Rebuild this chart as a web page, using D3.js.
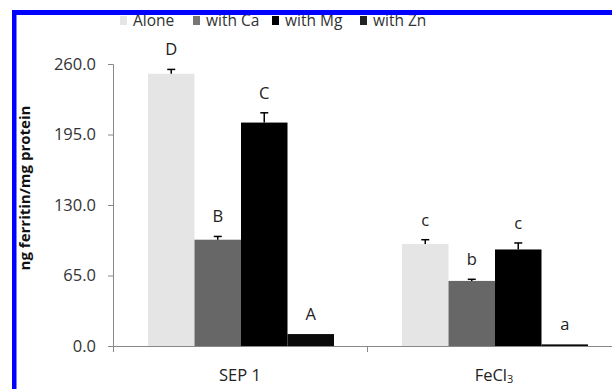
<!DOCTYPE html>
<head>
    <script src="https://d3js.org/d3.v7.min.js"></script>
    <style>
        body { margin: 0; background: #fff; }
        text { font-family: "Open Sans", sans-serif; }
    </style>
</head>
<svg width="612" height="389"></svg>
<script>
    // data
    var groups = ["SEP 1", "FeCl3"];
    var series = ["Alone", "with Ca", "with Mg", "with Zn"];
    var sep1 = [251, 98, 206, 11];
    var fecl3 = [94, 60, 89, 1.5];
    var sep1Err = [4, 3, 9, 0];
    var fecl3Err = [4, 1.5, 6, 0];
    var sep1Letters = ["D", "B", "C", "A"];
    var fecl3Letters = ["c", "b", "c", "a"];
    var yTicks = [0, 65, 130, 195, 260];
    var colors = ["#e5e5e5", "#676767", "#000000", "#0a0a0a"];
    var legendColors = ["#e5e5e5", "#777777", "#000000", "#222222"];

    var svg = d3.select("svg");

    var x0 = d3.scaleBand().domain(groups).range([113, 621]);
    var x1 = d3.scaleBand().domain(series).range([35, 221]);
    var y = d3.scaleLinear().domain([0, 260]).range([346, 64]);

    var rows = groups.map(function(g, i) {
        var vals = i == 0 ? sep1 : fecl3;
        var errs = i == 0 ? sep1Err : fecl3Err;
        var lets = i == 0 ? sep1Letters : fecl3Letters;
        return series.map(function(s, j) {
            return { g: g, s: s, j: j, v: vals[j], e: errs[j], l: lets[j] };
        });
    });

    // y axis
    var yAxis = svg.append("g")
        .attr("transform", "translate(113,0)")
        .call(d3.axisLeft(y).tickValues(yTicks).tickSize(5).tickPadding(12)
            .tickFormat(d3.format(".1f")));
    yAxis.select(".domain").attr("stroke", "#888").attr("d", "M-5,64.5H0.5V346.5");
    yAxis.selectAll(".tick line").attr("stroke", "#888");
    yAxis.selectAll("text").attr("font-size", 16.5).attr("fill", "#333")
        .style("font-family", "'Open Sans', sans-serif");

    // bars
    var g = svg.append("g").selectAll("g")
        .data(rows).enter().append("g")
        .attr("transform", function(d, i) { return "translate(" + x0(groups[i]) + ",0)"; });

    g.selectAll("rect")
        .data(function(d) { return d; })
        .enter().append("rect")
        .attr("x", function(d) { return x1(d.s); })
        .attr("width", x1.bandwidth())
        .attr("y", function(d) { return y(d.v); })
        .attr("height", function(d) { return y(0) - y(d.v); })
        .attr("fill", function(d) { return colors[d.j]; });

    // error bars
    var eb = g.selectAll(".err")
        .data(function(d) { return d.filter(function(e) { return e.e > 0; }); })
        .enter().append("g").attr("class", "err")
        .attr("stroke", "#000").attr("stroke-width", 1.5);
    eb.append("line")
        .attr("x1", function(d) { return x1(d.s) + x1.bandwidth() / 2; })
        .attr("x2", function(d) { return x1(d.s) + x1.bandwidth() / 2; })
        .attr("y1", function(d) { return y(d.v); })
        .attr("y2", function(d) { return y(d.v + d.e); });
    eb.append("line")
        .attr("x1", function(d) { return x1(d.s) + x1.bandwidth() / 2 - 4; })
        .attr("x2", function(d) { return x1(d.s) + x1.bandwidth() / 2 + 4; })
        .attr("y1", function(d) { return y(d.v + d.e); })
        .attr("y2", function(d) { return y(d.v + d.e); });

    // significance letters
    g.selectAll(".lab")
        .data(function(d) { return d; })
        .enter().append("text").attr("class", "lab")
        .attr("x", function(d) { return x1(d.s) + x1.bandwidth() / 2; })
        .attr("y", function(d) { return y(d.v + d.e) - 14; })
        .attr("text-anchor", "middle")
        .attr("font-size", 16.5)
        .attr("fill", "#222")
        .text(function(d) { return d.l; });

    // x axis
    var xAxis = svg.append("g")
        .attr("transform", "translate(0,346)")
        .call(d3.axisBottom(x0).tickSize(0).tickPadding(23));
    xAxis.select(".domain").attr("stroke", "#888");
    xAxis.selectAll("text").attr("font-size", 16.5).attr("fill", "#222")
        .style("font-family", "'Open Sans', sans-serif")
        .text(function(d) { return d == "FeCl3" ? "FeCl" : d; });
    xAxis.selectAll(".tick").filter(function(d) { return d == "FeCl3"; })
        .select("text").append("tspan").attr("dy", 2).attr("font-size", 11).text("3");
    // category separators
    svg.append("g").selectAll("line")
        .data([113, 367])
        .enter().append("line")
        .attr("x1", function(d) { return d + 0.5; })
        .attr("x2", function(d) { return d + 0.5; })
        .attr("y1", 346).attr("y2", 352)
        .attr("stroke", "#888");

    // y title
    svg.append("text")
        .attr("transform", "translate(30,188) rotate(-90)")
        .attr("text-anchor", "middle")
        .attr("font-size", 15)
        .attr("font-weight", "bold")
        .attr("fill", "#111")
        .text("ng ferritin/mg protein");

    // legend
    var legX = [120, 193, 272, 360];
    var leg = svg.append("g").selectAll("g")
        .data(series).enter().append("g")
        .attr("transform", function(d, i) { return "translate(" + legX[i] + ",0)"; });
    leg.append("rect").attr("x", 0).attr("y", 16).attr("width", 7).attr("height", 9)
        .attr("fill", function(d, i) { return legendColors[i]; });
    leg.append("text").attr("x", 13).attr("y", 26)
        .attr("font-size", 15.5).attr("fill", "#333")
        .text(function(d) { return d; });

    // blue frame
    svg.append("rect").attr("x", 12).attr("y", 10).attr("width", 600).attr("height", 5).attr("fill", "#0000ff");
    svg.append("rect").attr("x", 12).attr("y", 10).attr("width", 4.5).attr("height", 379).attr("fill", "#0000ff");
</script>
